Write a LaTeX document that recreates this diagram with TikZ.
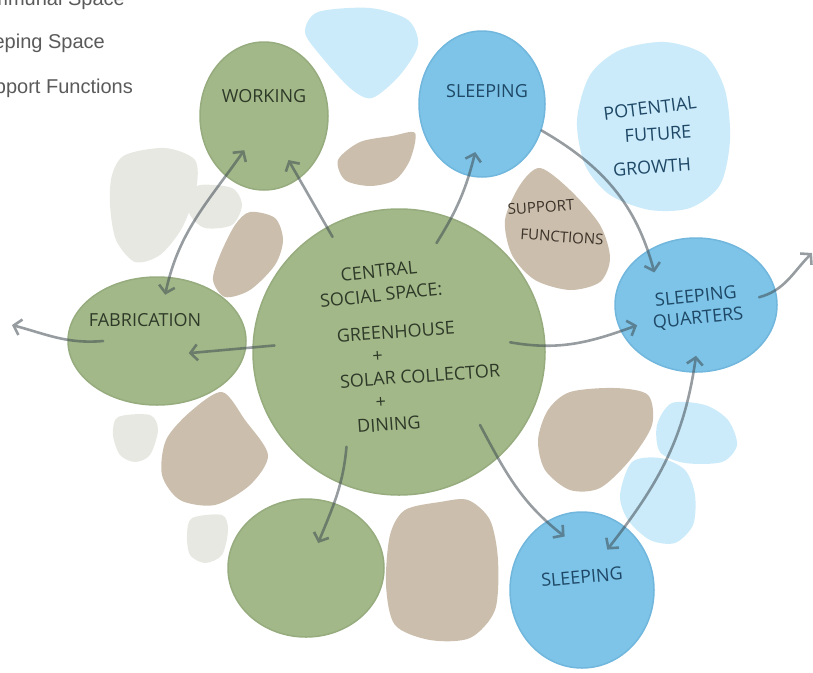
\documentclass[tikz,border=0pt]{standalone}
\usepackage{fontspec}
\usepackage{tikz}
\usetikzlibrary{arrows.meta,shapes.geometric,calc}
\setmainfont{Liberation Sans}
\newfontfamily\handfont{Open Sans}

\definecolor{communal}{HTML}{A3B889}
\definecolor{communaledge}{HTML}{97AC7E}
\definecolor{sleeping}{HTML}{7EC4E8}
\definecolor{sleepingedge}{HTML}{71B7DD}
\definecolor{growth}{HTML}{CBEBFA}
\definecolor{support}{HTML}{CBBEAC}
\definecolor{spare}{HTML}{E8E8E3}
\definecolor{flowgray}{HTML}{3F4B52}
\definecolor{keygray}{HTML}{5A5A5A}
\definecolor{greenink}{HTML}{2E3A28}
\definecolor{blueink}{HTML}{1E4866}
\definecolor{tanink}{HTML}{3A3128}

\begin{document}
\begin{tikzpicture}[x=1pt,y=-1pt,
    room/.style={ellipse, inner sep=0pt, line width=1.5pt},
    communalroom/.style={room, fill=communal, draw=communaledge},
    sleepingroom/.style={room, fill=sleeping, draw=sleepingedge},
    hand/.style={font=\handfont\fontsize{18}{23}\selectfont, inner sep=1pt},
    greenhand/.style={hand, text=greenink},
    bluehand/.style={hand, text=blueink},
    tanhand/.style={hand, text=tanink, font=\handfont\fontsize{15}{18}\selectfont},
    flow/.style={draw=flowgray, line width=2.6pt, line cap=round,
      -{Straight Barb[length=7pt,width=16pt]}},
    twoway/.style={flow, {Straight Barb[length=7pt,width=16pt]}-{Straight Barb[length=7pt,width=16pt]}},
    keytext/.style={font=\fontsize{20}{24}\selectfont, text=keygray, anchor=base east, inner sep=0pt}]
      \useasboundingbox (0,0) rectangle (813,672);
      \clip (0,0) rectangle (813,672);
      %%%%%%%%%%%%%%%%%%%%%%%%%%%%%%%%%%%%%%%%%%%%%%%
      \node[keytext] at (125,5)  (keycommunal) {Communal Space};
      \node[keytext] at (105,48) (keysleeping) {Sleeping Space};
      \node[keytext] at (133,93) (keysupport)  {Support Functions};
      %%%%%%%%%%%%%%%%%%%%%%%%%%%%%%%%%%%%%%%%%%%%%%%
      % leftover pockets
      \fill[spare] plot[smooth cycle] coordinates {(125,155) (165,148) (195,160) (196,190) (182,228) (160,255) (135,262) (116,240) (110,205) (112,175)};
      \fill[spare] plot[smooth cycle] coordinates {(200,185) (232,188) (242,205) (232,225) (205,228) (190,215) (188,195)};
      \fill[spare] plot[smooth cycle] coordinates {(118,417) (150,415) (158,430) (150,455) (135,462) (120,455) (113,435)};
      \fill[spare] plot[smooth cycle] coordinates {(192,518) (222,515) (228,530) (222,555) (205,563) (190,555) (187,535)};
      % growth
      \fill[growth] plot[smooth cycle] coordinates {(318,12) (370,8) (408,20) (418,45) (400,75) (372,98) (350,88) (320,55) (305,32)};
      \fill[growth] plot[smooth cycle] coordinates {(590,75) (620,50) (665,42) (705,55) (725,90) (730,140) (720,185) (690,208) (650,210) (610,195) (585,165) (577,120)};
      \fill[growth] plot[smooth cycle] coordinates {(672,403) (705,405) (728,420) (737,445) (722,462) (685,463) (660,452) (657,425)};
      \fill[growth] plot[smooth cycle] coordinates {(632,462) (660,458) (685,470) (695,495) (693,525) (675,543) (650,540) (628,520) (620,495)};
      % support
      \fill[support] plot[smooth cycle] coordinates {(338,160) (360,142) (392,136) (415,133) (410,160) (395,180) (370,186) (345,180)};
      \fill[support] plot[smooth cycle] coordinates {(250,212) (275,218) (283,240) (275,265) (250,290) (225,297) (213,280) (220,255) (235,225)};
      \fill[support] plot[smooth cycle] coordinates {(540,168) (570,190) (600,225) (610,258) (600,282) (570,290) (535,280) (512,255) (505,220) (520,185)};
      \fill[support] plot[smooth cycle] coordinates {(222,392) (245,420) (268,455) (250,485) (215,505) (180,500) (162,475) (166,440) (190,412)};
      \fill[support] plot[smooth cycle] coordinates {(570,392) (615,388) (648,395) (652,425) (630,460) (600,488) (570,490) (545,470) (538,440) (548,410)};
      \fill[support] plot[smooth cycle] coordinates {(405,510) (440,502) (468,500) (490,520) (498,560) (495,610) (470,638) (430,640) (395,625) (386,585) (390,535)};
      %%%%%%%%%%%%%%%%%%%%%%%%%%%%%%%%%%%%%%%%%%%%%%%
      \node[communalroom, minimum width=292pt, minimum height=286pt] at (399,352) (central)  {};
      \node[communalroom, minimum width=128pt, minimum height=148pt] at (264,116) (working)  {};
      \node[communalroom, minimum width=178pt, minimum height=128pt] at (157,341) (fab)      {};
      \node[communalroom, minimum width=156pt, minimum height=138pt] at (306,568) (commons)  {};
      \node[sleepingroom, minimum width=126pt, minimum height=146pt] at (482,104) (sleeptop) {};
      \node[sleepingroom, minimum width=162pt, minimum height=134pt] at (696,305) (quarters) {};
      \node[sleepingroom, minimum width=144pt, minimum height=156pt] at (582,590) (sleepbot) {};
      %%%%%%%%%%%%%%%%%%%%%%%%%%%%%%%%%%%%%%%%%%%%%%%
      \node[greenhand] at (264,96) (workinglbl) {WORKING};
      \node[greenhand] at (145,320) (fablbl) {FABRICATION};
      \node[greenhand, rotate=6, align=center, font=\handfont\fontsize{18}{24}\selectfont] at (380,283) (centrallbl) {CENTRAL\\SOCIAL SPACE:};
      \node[greenhand, rotate=4, align=left] at (420,376) (programlbl)
        {GREENHOUSE\\\hspace*{34pt}+\\SOLAR COLLECTOR\\\hspace*{34pt}+\\\hspace*{14pt}DINING};
      \node[bluehand] at (487,91) (sleeptoplbl) {SLEEPING};
      \node[bluehand, rotate=6, align=center, font=\handfont\fontsize{18}{22}\selectfont] at (697,308) (quarterslbl) {SLEEPING\\QUARTERS};
      \node[bluehand, rotate=5] at (582,577) (sleepbotlbl) {SLEEPING};
      \node[bluehand, rotate=7] at (650,108) (growthlbla) {POTENTIAL};
      \node[bluehand, rotate=4] at (658,134) (growthlblb) {FUTURE};
      \node[bluehand, rotate=4] at (652,167) (growthlblc) {GROWTH};
      \node[tanhand, rotate=4]  at (541,207) (supportlbla) {SUPPORT};
      \node[tanhand, rotate=-4] at (562,237) (supportlblb) {FUNCTIONS};
      %%%%%%%%%%%%%%%%%%%%%%%%%%%%%%%%%%%%%%%%%%%%%%%
      \coordinate (westexit) at (12,325);
      \coordinate (eastexit) at (812,253);
      \begin{scope}[transparency group, opacity=.55]
      \draw[flow] ($(central)!.92!(central.120)$) -- ($(working)!.7!(working.-61)$);
      \draw[flow] ($(central)!.85!(central.177)$) -- ($(fab)!.4!(fab.-21)$);
      \draw[flow] ($(central)!.8!(central.71)$) to[out=58, in=-104] ($(sleeptop)!.66!(sleeptop.-98)$);
      \draw[flow] ($(central)!.76!(central.5)$) to[out=-10, in=200] ($(quarters)!.78!(quarters.-161)$);
      \draw[flow] ($(central)!.75!(central.-42)$) to[out=-62, in=142] ($(sleepbot)!.72!(sleepbot.108)$);
      \draw[flow] ($(central)!.75!(central.-119)$) to[out=-95, in=68] ($(commons)!.39!(commons.64)$);
      \draw[twoway] ($(fab)!.72!(fab.80)$) to[out=78, in=235] ($(working)!.55!(working.-120)$);
      \draw[flow] ($(fab)!.6!(fab.180)$) to[out=185, in=-15] (westexit);
      \draw[flow] (sleeptop.-24) to[out=-30, in=105] ($(quarters)!.7!(quarters.142)$);
      \draw[flow] ($(quarters)!.78!(quarters.7)$) to[out=15, in=225] (eastexit);
      \draw[twoway] ($(sleepbot)!.62!(sleepbot.58)$) to[out=52, in=-98] ($(quarters)!.75!(quarters.-90)$);
      \end{scope}
\end{tikzpicture}
\end{document}
